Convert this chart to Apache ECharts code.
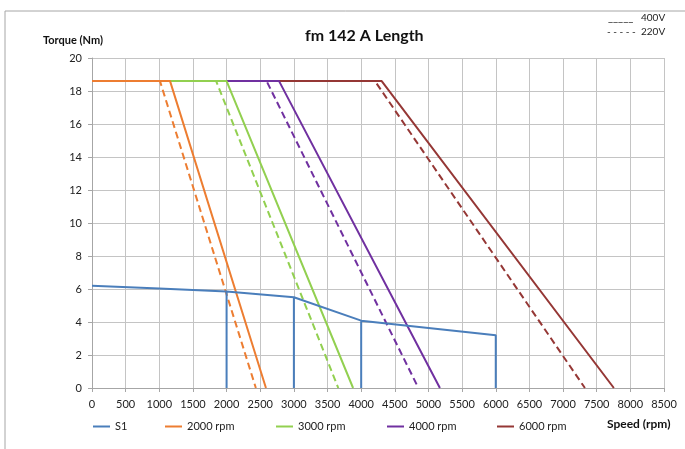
<!DOCTYPE html>
<html>
<head>
<meta charset="utf-8">
<script src="https://cdn.jsdelivr.net/npm/echarts@6/dist/echarts.min.js"></script>
<style>
html,body{margin:0;padding:0;background:#fff;}
#chart{width:685px;height:449px;}
</style>
</head>
<body>
<div id="chart"></div>
<script>
// ---- data ----
const xTicks = [0,500,1000,1500,2000,2500,3000,3500,4000,4500,5000,5500,6000,6500,7000,7500,8000,8500];
const yTicks = [0,2,4,6,8,10,12,14,16,18,20];

const curveTorque = [18.6, 18.6, 0];
const speed2000_400V = [0, 1160, 2585];
const speed2000_220V = [0, 1010, 2435];
const speed3000_400V = [0, 2000, 3880];
const speed3000_220V = [0, 1845, 3660];
const speed4000_400V = [0, 2780, 5170];
const speed4000_220V = [0, 2595, 4850];
const speed6000_400V = [0, 4305, 7755];
const speed6000_220V = [0, 4205, 7325];

const s1Speed  = [0, 1000, 2000, 2000, 2000, 3000, 3000, 3000, 4000, 4000, 4000, 5000, 6000, 6000];
const s1Torque = [6.2, 6.03, 5.85, 0, 5.85, 5.5, 0, 5.5, 4.08, 0, 4.08, 3.64, 3.2, 0];

const legendNames = ['S1', '2000 rpm', '3000 rpm', '4000 rpm', '6000 rpm'];

// ---- build ----
const pairs = (xs, ys) => xs.map((x, i) => [x, ys[i]]);
const colors = {
  'S1': '#4A7EBB',
  '2000 rpm': '#ED7D31',
  '3000 rpm': '#92D050',
  '4000 rpm': '#7030A0',
  '6000 rpm': '#953735'
};
function curve(name, xs, dashed) {
  return {
    name: dashed ? name + ' 220V' : name,
    type: 'line',
    data: pairs(xs, curveTorque),
    symbol: 'none',
    color: colors[name],
    lineStyle: { width: 2, color: colors[name], type: dashed ? [7, 4] : 'solid' },
    silent: true
  };
}
const series = [
  curve('6000 rpm', speed6000_400V, false),
  curve('6000 rpm', speed6000_220V, true),
  curve('4000 rpm', speed4000_400V, false),
  curve('4000 rpm', speed4000_220V, true),
  curve('3000 rpm', speed3000_400V, false),
  curve('3000 rpm', speed3000_220V, true),
  curve('2000 rpm', speed2000_400V, false),
  curve('2000 rpm', speed2000_220V, true),
  {
    name: 'S1', type: 'line', data: pairs(s1Speed, s1Torque), symbol: 'none',
    color: colors['S1'], lineStyle: { width: 2, color: colors['S1'] }, silent: true
  }
];

const legendLeft = [88, 160, 271, 382, 492];
const legends = legendNames.map((n, i) => ({
  data: [n], left: legendLeft[i], top: 416, icon: 'rect', itemWidth: 17, itemHeight: 2,
  selectedMode: false,
  textStyle: { fontFamily: 'Lato', fontSize: 11, color: '#222' }
}));

const font = 'Lato';
const chart = echarts.init(document.getElementById('chart'), null, { renderer: 'canvas' });
chart.setOption({
  animation: false,
  backgroundColor: '#fff',
  grid: { left: 92, right: 21, top: 58, bottom: 61, containLabel: false },
  xAxis: {
    type: 'value', min: xTicks[0], max: xTicks[xTicks.length - 1], interval: 500,
    axisLine: { show: true, lineStyle: { color: '#A6A6A6', width: 1 } },
    axisTick: { show: true, length: 4, lineStyle: { color: '#A6A6A6' } },
    axisLabel: { fontFamily: font, fontSize: 11, color: '#222', margin: 11, formatter: v => String(v) },
    splitLine: { show: true, lineStyle: { color: '#C4C4C4', width: 1 } }
  },
  yAxis: {
    type: 'value', min: yTicks[0], max: yTicks[yTicks.length - 1], interval: 2,
    axisLine: { show: true, lineStyle: { color: '#A6A6A6', width: 1 } },
    axisTick: { show: true, length: 4, lineStyle: { color: '#A6A6A6' } },
    axisLabel: { fontFamily: font, fontSize: 11, color: '#222', margin: 10, formatter: v => String(v) },
    splitLine: { show: true, lineStyle: { color: '#C4C4C4', width: 1 } }
  },
  legend: legends,
  series: series,
  graphic: [
    { type: 'rect', shape: { x: 5, y: 11, width: 720, height: 480 }, style: { fill: 'none', stroke: '#A6A6A6', lineWidth: 1 }, silent: true },
    { type: 'text', left: 305, top: 28, style: { text: 'fm 142 A Length', font: 'bold 16px Lato', fill: '#111' } },
    { type: 'text', left: 43, top: 35, style: { text: 'Torque (Nm)', font: 'bold 11px Lato', fill: '#111' } },
    { type: 'text', left: 607, top: 418, style: { text: 'Speed (rpm)', font: 'bold 12px Lato', fill: '#111' } },
    { type: 'text', left: 608, top: 12, style: { text: '_____', font: '11px Lato', fill: '#222' } },
    { type: 'text', left: 641, top: 13, style: { text: '400V', font: '10px Lato', fill: '#222' } },
    { type: 'text', left: 607, top: 27, style: { text: '- - - - -', font: '10px Lato', fill: '#222' } },
    { type: 'text', left: 641, top: 27, style: { text: '220V', font: '10px Lato', fill: '#222' } }
  ]
});
</script>
</body>
</html>
